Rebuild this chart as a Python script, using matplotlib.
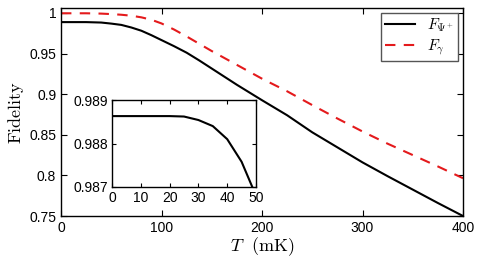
import numpy as np
import matplotlib
matplotlib.use("Agg")
from matplotlib import pyplot as plt

plt.rcParams['font.family'] = ['Liberation Sans', 'DejaVu Sans']
plt.rcParams['mathtext.fontset'] = 'cm'

# main curves, T in mK
T = [0, 25, 40, 50, 60, 70, 80, 90, 100, 112.5, 125, 137.5, 150, 162.5, 175, 200,
     225, 250, 275, 300, 325, 350, 375, 400]
F_psi = [0.98863, 0.98863, 0.9881, 0.9868, 0.9852, 0.9820, 0.9780, 0.9725, 0.9665,
         0.9590, 0.9510, 0.9415, 0.9315, 0.9215, 0.9115, 0.8925,
         0.8740, 0.8530, 0.8345, 0.8160, 0.7990, 0.7825, 0.7660, 0.7500]
F_gamma = [0.9995, 0.9995, 0.9991, 0.9985, 0.9977, 0.9965, 0.9945, 0.9915, 0.9870,
           0.9795, 0.9710, 0.9620, 0.9530, 0.9445, 0.9360, 0.9190,
           0.9035, 0.8865, 0.8700, 0.8540, 0.8390, 0.8250, 0.8110, 0.7965]

# inset (zoom on low T)
T_in = [0, 5, 10, 15, 20, 25, 30, 35, 40, 45, 50]
F_in = [0.98863, 0.98863, 0.98863, 0.98863, 0.98863, 0.98862, 0.98854, 0.98840,
        0.98810, 0.98758, 0.98680]

fig = plt.figure(figsize=(4.78, 2.6), dpi=100)
ax = fig.add_axes([61/478, 44/260, 402/478, 208/260])

ax.plot(T, F_psi, color='black', lw=1.5, label=r'$F_{\Psi^+}$')
ax.plot(T, F_gamma, color='#e41a1c', lw=1.5, dashes=(5, 4), label=r'$F_{\gamma}$')

ax.set_xlim(0, 400)
ax.set_ylim(0.75, 1.006)
ax.set_xticks([0, 100, 200, 300, 400])
ax.set_yticks([0.75, 0.8, 0.85, 0.9, 0.95, 1])
ax.set_yticklabels(['0.75', '0.8', '0.85', '0.9', '0.95', '1'])
ax.tick_params(direction='in', top=True, right=True, length=4, width=0.8, labelsize=10)
for s in ax.spines.values():
    s.set_linewidth(1.0)

ax.set_xlabel(r'$T\ \ (\mathrm{mK})$', fontsize=13, labelpad=0)
ax.set_ylabel(r'$\mathrm{Fidelity}$', fontsize=13, labelpad=2)

leg = ax.legend(loc='upper right', fontsize=11, fancybox=False, framealpha=1,
                borderaxespad=0.3, handlelength=2.0, borderpad=0.25, labelspacing=0.25)
leg.get_frame().set_edgecolor('#555555')
leg.get_frame().set_linewidth(1.0)

# inset
ins = fig.add_axes([112/478, 73/260, 144/478, 87/260])
ins.plot(T_in, F_in, color='black', lw=1.5)
ins.set_xlim(0, 50)
ins.set_ylim(0.987, 0.989)
ins.set_xticks([0, 10, 20, 30, 40, 50])
ins.set_yticks([0.987, 0.988, 0.989])
ins.set_yticklabels(['0.987', '0.988', '0.989'])
ins.tick_params(direction='in', top=True, right=True, length=3, width=0.8, labelsize=10, pad=3)
for s in ins.spines.values():
    s.set_linewidth(1.0)

fig.savefig('out.png', dpi=100)
